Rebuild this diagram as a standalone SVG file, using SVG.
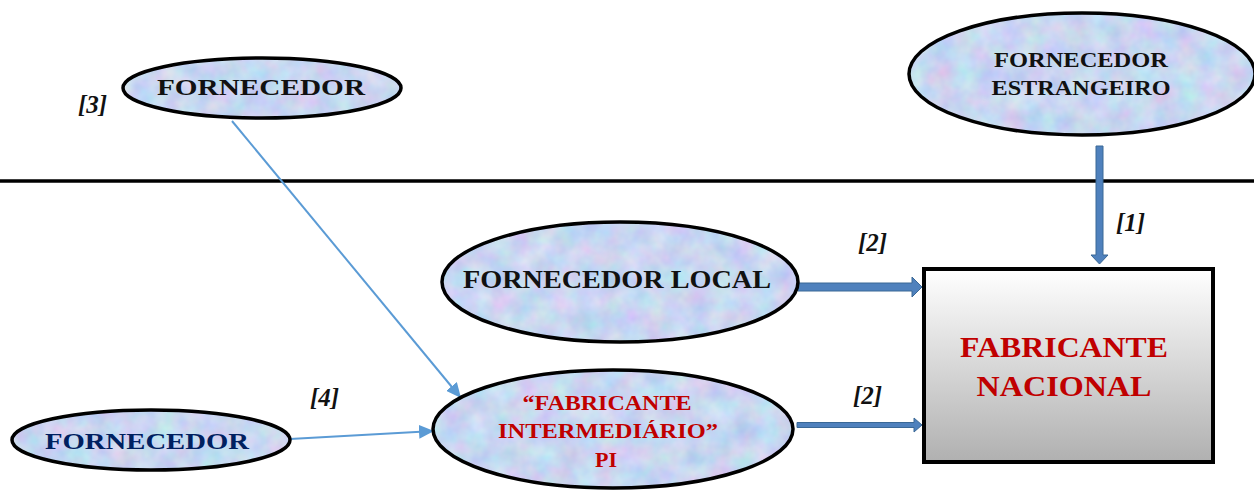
<svg xmlns="http://www.w3.org/2000/svg" width="1254" height="492" viewBox="0 0 1254 492">
  <style>
    .fill { fill: #c5d6f1; }
    .ring { fill: none; stroke: #000; stroke-width: 3.5; }
    .t { font-family: "Liberation Serif", "Times New Roman", serif; font-weight: bold; text-anchor: middle; }
    .lbl { font-family: "Liberation Serif", "Times New Roman", serif; font-style: italic; font-weight: bold; font-size: 25px; fill: #111; }
    .thin { fill: none; stroke: #5b9bd5; stroke-width: 2; }
    .block { fill: #4f81bd; stroke: #3a6896; stroke-width: 1; }
  </style>
  <defs>
    <filter id="tex" x="0" y="0" width="100%" height="100%" color-interpolation-filters="sRGB">
      <feTurbulence type="fractalNoise" baseFrequency="0.045" numOctaves="3" seed="7" result="n"/>
      <feColorMatrix in="n" type="matrix" values="0.26 0 0 0 0.655  0 0.2 0 0 0.74  0 0 0.1 0 0.895  0 0 0 0 1" result="c"/>
      <feComposite in="c" in2="SourceGraphic" operator="in"/>
    </filter>
    <linearGradient id="gray" x1="0" y1="0" x2="0" y2="1">
      <stop offset="0" stop-color="#ffffff"/>
      <stop offset="1" stop-color="#b0b0b0"/>
    </linearGradient>
    <marker id="tri" markerUnits="userSpaceOnUse" markerWidth="16" markerHeight="14" refX="15" refY="7" orient="auto">
      <path d="M0,0 L15,7 L0,14 Z" fill="#5b9bd5"/>
    </marker>
  </defs>

  <line x1="0" y1="181" x2="1254" y2="181" stroke="#000" stroke-width="3.5"/>

  <g id="connectors">
    <line class="thin" x1="232" y1="121" x2="461" y2="398" marker-end="url(#tri)"/>
    <line class="thin" x1="290" y1="439" x2="434" y2="431" marker-end="url(#tri)"/>
    <polygon class="block" points="1096,146 1103,146 1103,255 1108,255 1099.5,264 1091,255 1096,255"/>
    <polygon class="block" points="798,283 912,283 912,277 922,287 912,297 912,291 798,291"/>
    <polygon class="block" points="797,422.5 914,422.5 914,418 922,425 914,432 914,427.5 797,427.5"/>
    <text class="lbl" x="1116" y="231">[1]</text>
    <text class="lbl" x="858" y="251">[2]</text>
    <text class="lbl" x="853" y="404">[2]</text>
    <text class="lbl" x="78" y="113">[3]</text>
    <text class="lbl" x="310" y="406">[4]</text>
  </g>

  <g id="fornecedor-estrangeiro">
    <ellipse class="fill" filter="url(#tex)" cx="1082" cy="74" rx="173" ry="61"/>
    <ellipse class="ring" cx="1082" cy="74" rx="173" ry="61"/>
    <text class="t" x="1081" y="67" font-size="20" fill="#111" textLength="174" lengthAdjust="spacingAndGlyphs">FORNECEDOR</text>
    <text class="t" x="1081" y="95" font-size="20" fill="#111" textLength="179" lengthAdjust="spacingAndGlyphs">ESTRANGEIRO</text>
  </g>

  <g id="fornecedor-top">
    <ellipse class="fill" filter="url(#tex)" cx="262" cy="88" rx="139" ry="30"/>
    <ellipse class="ring" cx="262" cy="88" rx="139" ry="30"/>
    <text class="t" x="261" y="95" font-size="23" fill="#111" textLength="208" lengthAdjust="spacingAndGlyphs">FORNECEDOR</text>
  </g>

  <g id="fornecedor-local">
    <ellipse class="fill" filter="url(#tex)" cx="620" cy="282" rx="178" ry="60"/>
    <ellipse class="ring" cx="620" cy="282" rx="178" ry="60"/>
    <text class="t" x="617" y="288" font-size="25" fill="#111" textLength="308" lengthAdjust="spacingAndGlyphs">FORNECEDOR LOCAL</text>
  </g>

  <g id="fabricante-intermediario">
    <ellipse class="fill" filter="url(#tex)" cx="613" cy="429" rx="180" ry="59"/>
    <ellipse class="ring" cx="613" cy="429" rx="180" ry="59"/>
    <text class="t" x="607" y="410" font-size="22" fill="#c00000" textLength="169" lengthAdjust="spacingAndGlyphs">“FABRICANTE</text>
    <text class="t" x="608" y="438" font-size="22" fill="#c00000" textLength="220" lengthAdjust="spacingAndGlyphs">INTERMEDIÁRIO”</text>
    <text class="t" x="606" y="467" font-size="22" fill="#c00000">PI</text>
  </g>

  <g id="fornecedor-bottom">
    <ellipse class="fill" filter="url(#tex)" cx="151" cy="440" rx="139" ry="30"/>
    <ellipse class="ring" cx="151" cy="440" rx="139" ry="30"/>
    <text class="t" x="147" y="449" font-size="23" fill="#002060" textLength="204" lengthAdjust="spacingAndGlyphs">FORNECEDOR</text>
  </g>

  <g id="fabricante-nacional">
    <rect x="924" y="269" width="289" height="193" fill="url(#gray)" stroke="#000" stroke-width="4"/>
    <text class="t" x="1064" y="357" font-size="29" fill="#c00000" textLength="208" lengthAdjust="spacingAndGlyphs">FABRICANTE</text>
    <text class="t" x="1064" y="396" font-size="29" fill="#c00000" textLength="175" lengthAdjust="spacingAndGlyphs">NACIONAL</text>
  </g>
</svg>
